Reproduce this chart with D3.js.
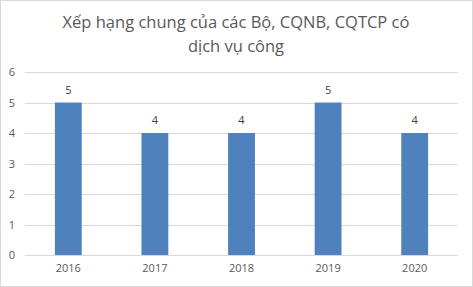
<!DOCTYPE html>
<html><head><meta charset="utf-8">
<script src="https://cdn.jsdelivr.net/npm/d3@7"></script>
<style>body{margin:0;background:#fff}svg{display:block}</style>
</head><body>
<script>
const categories = ["2016","2017","2018","2019","2020"];
const values = [5,4,4,5,4];
const yTicks = [0,1,2,3,4,5,6];
const titleLines = ["Xếp hạng chung của các Bộ, CQNB, CQTCP có","dịch vụ công"];

const W = 473, H = 287;
const margin = {left:25, right:15, top:72, bottom:32};
const svg = d3.select("body").append("svg").attr("width",W).attr("height",H);
svg.append("rect").attr("x",0.5).attr("y",0.5).attr("width",W-1).attr("height",H-1)
  .attr("fill","#fff").attr("stroke","#d9d9d9");

const x = d3.scaleBand().domain(categories).range([margin.left, W-margin.right]).paddingInner(0.69).paddingOuter(0.345);
const y = d3.scaleLinear().domain([0,6]).range([H-margin.bottom, margin.top]);

const font = "Open Sans, Calibri, sans-serif";
svg.append("g").selectAll("line").data(yTicks).join("line")
  .attr("x1",margin.left).attr("x2",W-margin.right)
  .attr("y1",d=>Math.round(y(d))+0.5).attr("y2",d=>Math.round(y(d))+0.5)
  .attr("stroke","#d9d9d9");

const yAxis = d3.axisLeft(y).tickValues(yTicks).tickFormat(d3.format("d")).tickSize(0).tickPadding(0);
const gy = svg.append("g").attr("transform",`translate(15,0)`).call(yAxis);
gy.select(".domain").remove();
gy.selectAll("text").attr("fill","#595959").style("font-family",font).style("font-size","11px");

const xAxis = d3.axisBottom(x).tickSize(0).tickPadding(0);
const gx = svg.append("g").attr("transform",`translate(0,${H-margin.bottom+9})`).call(xAxis);
gx.select(".domain").remove();
gx.selectAll("text").attr("fill","#595959").style("font-family",font).style("font-size","11px");

svg.append("g").selectAll("rect").data(values).join("rect")
  .attr("x",(d,i)=>x(categories[i])).attr("width",x.bandwidth())
  .attr("y",d=>y(d)).attr("height",d=>y(0)-y(d)).attr("fill","#4f81bd");

svg.append("g").selectAll("text").data(values).join("text")
  .attr("x",(d,i)=>x(categories[i])+x.bandwidth()/2).attr("y",d=>y(d)-9)
  .attr("text-anchor","middle").attr("fill","#404040")
  .style("font-family",font).style("font-size","11px").text(d=>d);

svg.append("g").selectAll("text").data(titleLines).join("text")
  .attr("x",236).attr("y",(d,i)=>28+i*24).attr("text-anchor","middle")
  .attr("fill","#595959").style("font-family",font).style("font-size","16.5px").text(d=>d);
</script>
</body></html>
